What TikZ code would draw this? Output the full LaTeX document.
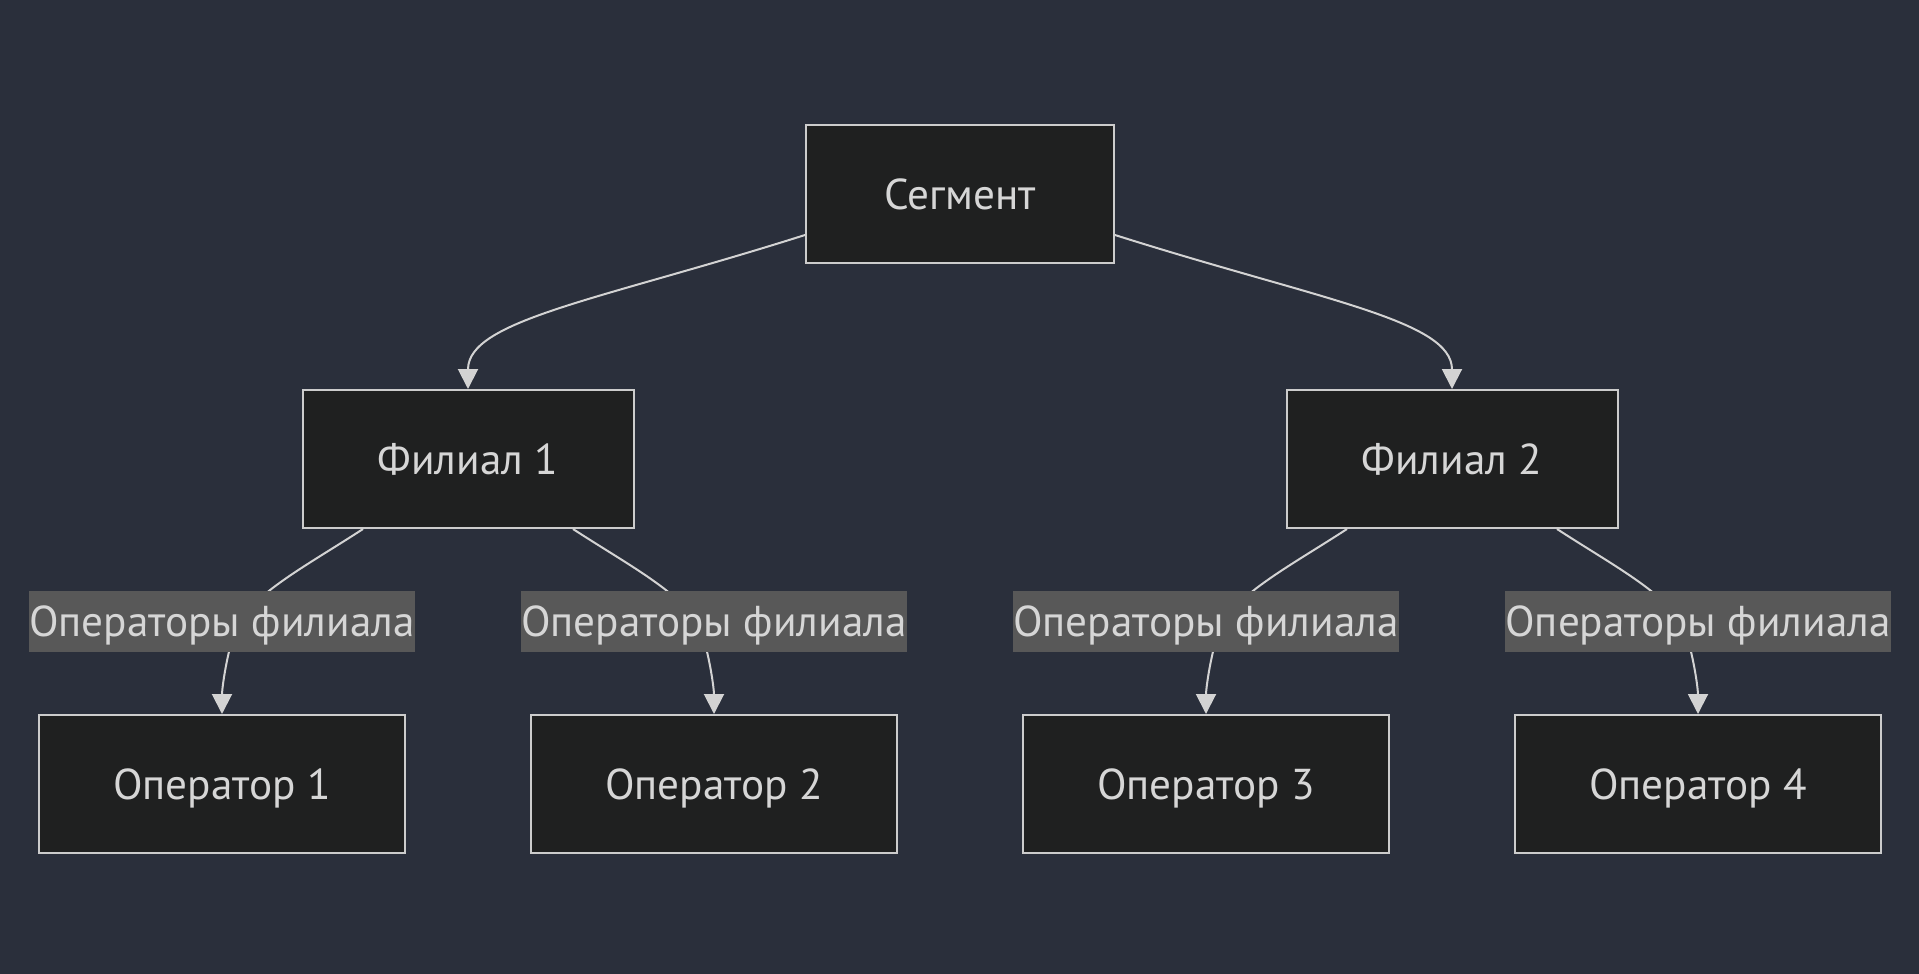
\documentclass[tikz,border=0pt]{standalone}
\usepackage{fontspec}
\setmainfont{PT Sans}
\usetikzlibrary{arrows.meta}
\definecolor{bgc}{RGB}{42,47,59}
\definecolor{boxfill}{RGB}{31,32,32}
\definecolor{boxline}{RGB}{204,204,204}
\definecolor{txt}{RGB}{214,214,214}
\definecolor{lblbg}{RGB}{88,88,88}
\definecolor{edge}{RGB}{211,211,211}
\tikzset{
  box/.style={draw=boxline, fill=boxfill, line width=1pt, text=txt, inner sep=0pt,
    minimum height=69pt, font=\fontsize{21.6}{24}\selectfont,
    text height=15.1pt, text depth=0pt},
  segbox/.style={box, minimum width=154pt},
  filbox/.style={box, minimum width=165.5pt},
  opbox/.style={box, minimum width=183pt},
  elabel/.style={fill=lblbg, text=txt, inner xsep=0pt, inner ysep=0pt,
    minimum height=30.5pt, font=\fontsize{21.6}{24}\selectfont,
    text height=15.1pt, text depth=0pt},
  conn/.style={draw=edge, line width=1pt, -{Triangle[width=10pt,length=10pt]}}
}
\begin{document}
\begin{tikzpicture}[x=0.5pt,y=-0.5pt]
\fill[bgc] (0,0) rectangle (1919,974);
\useasboundingbox (0,0) rectangle (1919,974);
\node[segbox] (seg) at (960,194) {Сегмент};
\node[filbox] (f1) at (468,459) {Филиал 1};
\node[filbox] (f2) at (1452,459) {Филиал 2};
\node[opbox] (o1) at (222,784) {Оператор 1};
\node[opbox] (o2) at (714,784) {Оператор 2};
\node[opbox] (o3) at (1206,784) {Оператор 3};
\node[opbox] (o4) at (1698,784) {Оператор 4};
% edges
\draw[conn] ([yshift=-20.5pt]seg.west) .. controls (600,300) and (468,320) .. (f1.north);
\draw[conn] ([yshift=-20.5pt]seg.east) .. controls (1320,300) and (1452,320) .. (f2.north);
\draw[conn] ([xshift=-52.5pt]f1.south) .. controls (300,570) and (240,600) .. (232,640) .. controls (225,665) and (222,690) .. (o1.north);
\draw[conn] ([xshift=52.5pt]f1.south) .. controls (636,570) and (696,600) .. (704,640) .. controls (711,665) and (714,690) .. (o2.north);
\draw[conn] ([xshift=-52.5pt]f2.south) .. controls (1284,570) and (1224,600) .. (1216,640) .. controls (1209,665) and (1206,690) .. (o3.north);
\draw[conn] ([xshift=52.5pt]f2.south) .. controls (1620,570) and (1680,600) .. (1688,640) .. controls (1695,665) and (1698,690) .. (o4.north);
% labels
\node[elabel] (l1) at (222,621.5) {Операторы филиала};
\node[elabel] (l2) at (714,621.5) {Операторы филиала};
\node[elabel] (l3) at (1206,621.5) {Операторы филиала};
\node[elabel] (l4) at (1698,621.5) {Операторы филиала};
\end{tikzpicture}
\end{document}
